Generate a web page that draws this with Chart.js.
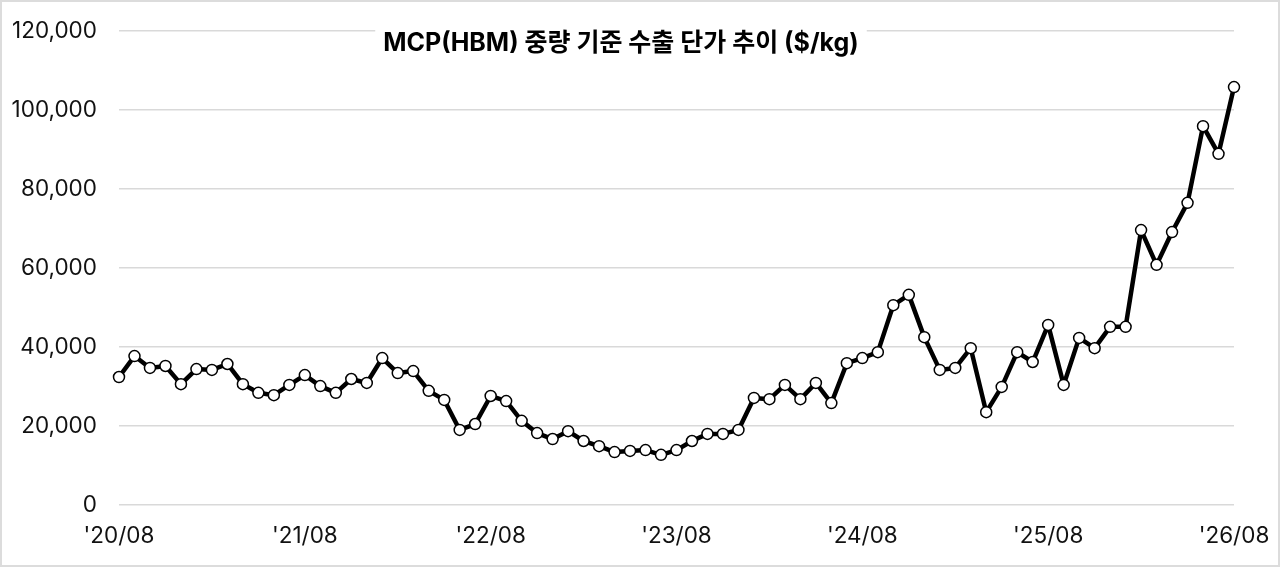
<!DOCTYPE html>
<html>
<head>
<meta charset="utf-8">
<style>
  html, body { margin: 0; padding: 0; background: #fff; }
  #wrap { width: 1280px; height: 567px; position: relative; }
</style>
<script src="https://cdn.jsdelivr.net/npm/chart.js@4"></script>
</head>
<body>
<div id="wrap"><canvas id="price-chart" width="1280" height="567"></canvas></div>
<script>
// MCP (HBM) export unit price by weight, monthly '20/08 ~ '26/08 ($/kg)
const chartTitle = "MCP(HBM) 중량 기준 수출 단가 추이 ($/kg)";

const startYear = 20;
const startMonth = 8;
const monthCount = 73;

const unitPrice = [
  32400, 37700, 34700, 35200, 30600, 34400, 34200, 35700, 30600, 28400,
  27800, 30400, 32900, 30100, 28400, 31900, 30900, 37200, 33400, 33900,
  28900, 26600, 19000, 20500, 27600, 26300, 21300, 18200, 16700, 18700,
  16200, 14900, 13400, 13700, 13900, 12700, 13900, 16200, 18000, 18000,
  19000, 27100, 26800, 30400, 26800, 30900, 25800, 35900, 37200, 38700,
  50600, 53200, 42500, 34200, 34700, 39700, 23500, 29900, 38700, 36200,
  45600, 30400, 42300, 39700, 45100, 45100, 69600, 60800, 69100, 76500,
  95900, 88900, 105800,
];

const yTicks = [0, 20000, 40000, 60000, 80000, 100000, 120000];

// month labels like '20/08
const monthLabels = [];
for (let i = 0; i < monthCount; i++) {
  const m = startMonth - 1 + i;
  const yy = startYear + Math.floor(m / 12);
  const mm = (m % 12) + 1;
  monthLabels.push("'" + yy + "/" + String(mm).padStart(2, "0"));
}

const fontFamily = "Inter, 'Noto Sans CJK KR', 'Noto Sans', sans-serif";

// title with a white box over the top grid line, plus the outer frame
const titleAndFrame = {
  id: "titleAndFrame",
  beforeDraw(chart) {
    const ctx = chart.ctx;
    ctx.save();
    ctx.fillStyle = "#fff";
    ctx.fillRect(0, 0, chart.width, chart.height);
    ctx.restore();
  },
  afterDraw(chart) {
    const ctx = chart.ctx;
    ctx.save();
    ctx.font = "bold 25px " + fontFamily;
    const w = ctx.measureText(chartTitle).width;
    const cx = 621;
    const cy = 43;
    ctx.fillStyle = "#fff";
    ctx.fillRect(cx - w / 2 - 8, 22, w + 16, 38);
    ctx.fillStyle = "#000";
    ctx.textAlign = "center";
    ctx.textBaseline = "middle";
    ctx.fillText(chartTitle, cx, cy);
    ctx.strokeStyle = "#dcdcdc";
    ctx.lineWidth = 2;
    ctx.strokeRect(1, 1, chart.width - 2, chart.height - 2);
    ctx.restore();
  },
};

const ctxPrice = document.getElementById("price-chart");

new Chart(ctxPrice, {
  type: "line",
  data: {
    labels: monthLabels,
    datasets: [
      {
        label: "수출 단가",
        data: unitPrice,
        borderColor: "#000",
        borderWidth: 4.5,
        borderJoinStyle: "round",
        pointRadius: 5.5,
        pointBorderWidth: 1.5,
        pointBackgroundColor: "#fff",
        pointBorderColor: "#000",
        tension: 0,
        clip: false,
      },
    ],
  },
  options: {
    responsive: false,
    animation: false,
    devicePixelRatio: 1,
    layout: {
      padding: { top: 31, right: 46, bottom: 0, left: 0 },
    },
    scales: {
      x: {
        offset: false,
        border: { display: false },
        grid: { display: false, drawTicks: false },
        ticks: {
          autoSkip: false,
          maxRotation: 0,
          padding: 18,
          color: "#111",
          font: { family: fontFamily, size: 22.5 },
          callback: (value, index) => (index % 12 === 0 ? monthLabels[index] : ""),
        },
        afterFit: (scale) => {
          scale.height = 62;
          scale.paddingLeft = 0;
          scale.paddingRight = 0;
        },
      },
      y: {
        min: 0,
        max: 120000,
        border: { display: false },
        grid: { color: "#d9d9d9", lineWidth: 1.5, drawTicks: false },
        afterBuildTicks: (scale) => {
          scale.ticks = yTicks.map((v) => ({ value: v }));
        },
        ticks: {
          padding: 22,
          color: "#111",
          font: { family: fontFamily, size: 22.5 },
          callback: (value) => value.toLocaleString("en-US"),
        },
        afterFit: (scale) => {
          scale.width = 119;
          scale.paddingTop = 0;
          scale.paddingBottom = 0;
        },
      },
    },
    plugins: {
      legend: { display: false },
      title: { display: false },
      tooltip: { enabled: false },
    },
  },
  plugins: [titleAndFrame],
});
</script>
</body>
</html>
